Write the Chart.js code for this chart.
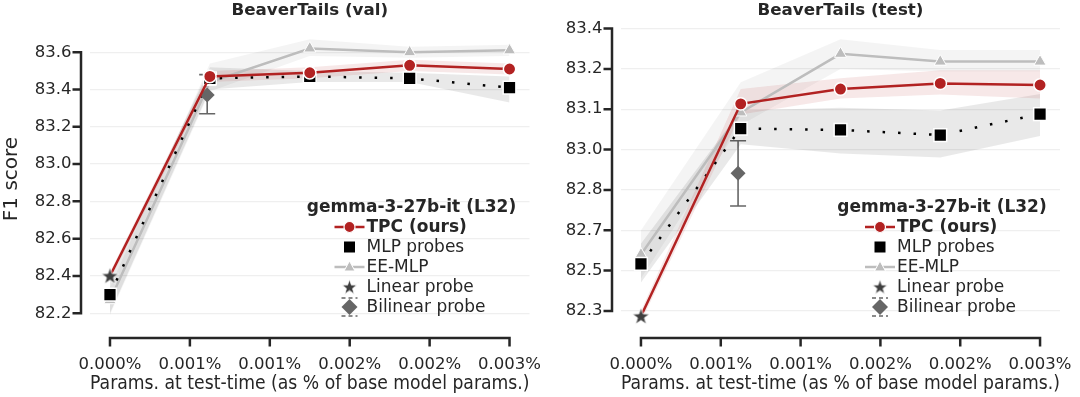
<!DOCTYPE html>
<html>
<head>
<meta charset="utf-8">
<script src="https://cdn.jsdelivr.net/npm/chart.js@4.4.1/dist/chart.umd.min.js"></script>
<style>
  html, body { margin: 0; padding: 0; background: #fff; }
  #wrap { display: flex; width: 1080px; height: 397px; }
</style>
</head>
<body>
<div id="wrap">
  <canvas id="chartVal" width="540" height="397"></canvas>
  <canvas id="chartTest" width="540" height="397"></canvas>
</div>
<script>
'use strict';

// x positions (fraction of base model params, in %)
const paramX = [0, 0.00075, 0.0015, 0.00225, 0.003];
const linearX = [0];
const bilinearX = [0.00073];

const xTickValues = [0, 0.0006, 0.0012, 0.0018, 0.0024, 0.003];
const xTickLabels = ['0.000%', '0.001%', '0.001%', '0.002%', '0.002%', '0.003%'];

const valYTicks = [82.2, 82.4, 82.6, 82.8, 83.0, 83.2, 83.4, 83.6];
const valYLabels = ['82.2', '82.4', '82.6', '82.8', '83.0', '83.2', '83.4', '83.6'];
const testYTicks = [82.35, 82.5, 82.65, 82.8, 82.95, 83.1, 83.25, 83.4];
const testYLabels = ['82.3', '82.5', '82.7', '82.8', '83.0', '83.1', '83.2', '83.4'];

const titles = ['BeaverTails (val)', 'BeaverTails (test)'];
const legendTitle = 'gemma-3-27b-it (L32)';
const seriesNames = ['TPC (ours)', 'MLP probes', 'EE-MLP', 'Linear probe', 'Bilinear probe'];

// BeaverTails (val)
const valTpc = [82.40, 83.47, 83.49, 83.53, 83.51];
const valTpcLow = [82.38, 83.44, 83.46, 83.50, 83.48];
const valTpcHigh = [82.42, 83.50, 83.52, 83.56, 83.54];
const valMlp = [82.30, 83.46, 83.47, 83.46, 83.41];
const valMlpLow = [82.20, 83.40, 83.44, 83.44, 83.33];
const valMlpHigh = [82.38, 83.52, 83.50, 83.49, 83.47];
const valEe = [82.27, 83.44, 83.62, 83.60, 83.61];
const valEeLow = [82.19, 83.39, 83.58, 83.57, 83.58];
const valEeHigh = [82.34, 83.54, 83.67, 83.63, 83.64];
const valLinear = [82.40];
const valBilinear = [83.37];
const valBilinearLow = [83.27];
const valBilinearHigh = [83.48];

// BeaverTails (test)
const testTpc = [82.33, 83.12, 83.175, 83.196, 83.19];
const testTpcLow = [82.31, 83.08, 83.14, 83.155, 83.14];
const testTpcHigh = [82.35, 83.175, 83.215, 83.245, 83.245];
const testMlp = [82.525, 83.028, 83.023, 83.004, 83.082];
const testMlpLow = [82.455, 82.97, 82.935, 82.92, 83.0];
const testMlpHigh = [82.60, 83.095, 83.105, 83.095, 83.157];
const testEe = [82.56, 83.088, 83.306, 83.277, 83.277];
const testEeLow = [82.47, 83.04, 83.25, 83.24, 83.24];
const testEeHigh = [82.65, 83.20, 83.36, 83.32, 83.32];
const testLinear = [82.33];
const testBilinear = [82.862];
const testBilinearLow = [82.74];
const testBilinearHigh = [82.983];

const RED = '#b22222';
const EE_GRAY = '#bdbdbd';
const DARK = '#262626';
const STAR_COL = '#3f3f3f';
const DIAMOND_COL = '#666666';
const FONT = "'DejaVu Sans', sans-serif";

Chart.defaults.font.family = FONT;
Chart.defaults.font.size = 16.5;
Chart.defaults.color = DARK;

function makeStar(size, fill) {
  let c = document.createElement('canvas');
  c.width = size;
  c.height = size;
  let g = c.getContext('2d');
  let cx = size / 2, cy = size / 2 + 0.5, R = size / 2 - 0.5, r = R * 0.4;
  g.beginPath();
  for (let i = 0; i < 10; i++) {
    let rad = i % 2 ? r : R;
    let a = -Math.PI / 2 + i * Math.PI / 5;
    g.lineTo(cx + rad * Math.cos(a), cy + rad * Math.sin(a));
  }
  g.closePath();
  g.fillStyle = fill;
  g.fill();
  g.strokeStyle = '#fff';
  g.lineWidth = 0.8;
  g.stroke();
  return c;
}

let starImg = makeStar(19, STAR_COL);
let starSmall = makeStar(17, STAR_COL);

function pts(xs, ys) {
  return ys.map((v, i) => ({ x: xs[i], y: v }));
}

function band(high, low, color, order) {
  return [
    { data: pts(paramX, high), fill: '+1', backgroundColor: color, borderWidth: 0, pointRadius: 0, order: order },
    { data: pts(paramX, low), fill: false, borderWidth: 0, pointRadius: 0, order: order }
  ];
}

// spines trimmed to the tick range, offset from the plot area
let spinesPlugin = {
  id: 'spines',
  afterDraw(chart) {
    let { ctx, chartArea: a, scales: { x, y } } = chart;
    let yt = chart.options.plugins.spines.yTicks;
    ctx.save();
    ctx.strokeStyle = DARK;
    ctx.lineWidth = 2.5;
    let sx = a.left - 9;
    let sy = a.bottom + 8;
    ctx.beginPath();
    ctx.moveTo(sx, y.getPixelForValue(yt[0]));
    ctx.lineTo(sx, y.getPixelForValue(yt[yt.length - 1]));
    yt.forEach(v => {
      let py = y.getPixelForValue(v);
      ctx.moveTo(sx + 1.25, py);
      ctx.lineTo(sx - 8.5, py);
    });
    ctx.moveTo(x.getPixelForValue(xTickValues[0]), sy);
    ctx.lineTo(x.getPixelForValue(xTickValues[xTickValues.length - 1]), sy);
    xTickValues.forEach(v => {
      let px = x.getPixelForValue(v);
      ctx.moveTo(px, sy - 1.25);
      ctx.lineTo(px, sy + 8.5);
    });
    ctx.stroke();
    ctx.restore();
  }
};

let errorBarPlugin = {
  id: 'errbars',
  beforeDatasetsDraw(chart) {
    let o = chart.options.plugins.errbars;
    let { ctx, scales: { x, y } } = chart;
    ctx.save();
    ctx.strokeStyle = DIAMOND_COL;
    ctx.lineWidth = 1.6;
    o.xs.forEach((xv, i) => {
      let px = x.getPixelForValue(xv);
      let top = y.getPixelForValue(o.high[i]);
      let bot = y.getPixelForValue(o.low[i]);
      ctx.beginPath();
      ctx.moveTo(px, top);
      ctx.lineTo(px, bot);
      ctx.moveTo(px - 8, top);
      ctx.lineTo(px + 8, top);
      ctx.moveTo(px - 8, bot);
      ctx.lineTo(px + 8, bot);
      ctx.stroke();
    });
    ctx.restore();
  }
};

let legendPlugin = {
  id: 'sideLegend',
  afterDraw(chart) {
    let { ctx, chartArea: a } = chart;
    let hx = a.right - 180;
    let tx = hx + 17;
    ctx.save();
    ctx.textBaseline = 'middle';
    ctx.fillStyle = DARK;
    ctx.textAlign = 'center';
    ctx.font = 'bold 17px ' + FONT;
    ctx.fillText(legendTitle, a.right - 118, a.bottom - 122);
    let rows = seriesNames.map((n, i) => a.bottom - 103 + 20 * i);
    ctx.textAlign = 'left';
    seriesNames.forEach((name, i) => {
      ctx.fillStyle = DARK;
      ctx.font = (i === 0 ? 'bold ' : '') + '17px ' + FONT;
      ctx.fillText(name, tx, rows[i] + 1);
    });
    // handles
    ctx.lineWidth = 2.5;
    ctx.strokeStyle = RED;
    ctx.beginPath(); ctx.moveTo(hx - 15, rows[0]); ctx.lineTo(hx + 15, rows[0]); ctx.stroke();
    ctx.fillStyle = RED; ctx.strokeStyle = '#fff';
    ctx.beginPath(); ctx.arc(hx, rows[0], 5.5, 0, Math.PI * 2); ctx.fill(); ctx.lineWidth = 1.2; ctx.stroke();
    ctx.fillStyle = '#000';
    ctx.fillRect(hx - 5.5, rows[1] - 5.5, 11, 11);
    ctx.strokeStyle = EE_GRAY; ctx.lineWidth = 2.5;
    ctx.beginPath(); ctx.moveTo(hx - 15, rows[2]); ctx.lineTo(hx + 15, rows[2]); ctx.stroke();
    ctx.fillStyle = EE_GRAY; ctx.strokeStyle = '#fff'; ctx.lineWidth = 1;
    ctx.beginPath();
    ctx.moveTo(hx, rows[2] - 6); ctx.lineTo(hx + 5.5, rows[2] + 4); ctx.lineTo(hx - 5.5, rows[2] + 4);
    ctx.closePath(); ctx.fill(); ctx.stroke();
    ctx.drawImage(starSmall, hx - 8.5, rows[3] - 8.5);
    ctx.strokeStyle = DIAMOND_COL; ctx.lineWidth = 1.5; ctx.setLineDash([4, 3]);
    ctx.beginPath();
    ctx.moveTo(hx - 8, rows[4] - 9); ctx.lineTo(hx + 8, rows[4] - 9);
    ctx.moveTo(hx - 8, rows[4] + 9); ctx.lineTo(hx + 8, rows[4] + 9);
    ctx.stroke();
    ctx.setLineDash([]);
    ctx.fillStyle = DIAMOND_COL;
    ctx.beginPath();
    ctx.moveTo(hx, rows[4] - 8); ctx.lineTo(hx + 8, rows[4]); ctx.lineTo(hx, rows[4] + 8); ctx.lineTo(hx - 8, rows[4]);
    ctx.closePath(); ctx.fill();
    ctx.restore();
  }
};

function makeChart(id, cfg) {
  let datasets = [].concat(
    band(cfg.eeHigh, cfg.eeLow, 'rgba(0,0,0,0.045)', 12),
    band(cfg.mlpHigh, cfg.mlpLow, 'rgba(0,0,0,0.085)', 11),
    band(cfg.tpcHigh, cfg.tpcLow, 'rgba(178,34,34,0.10)', 10),
    [
      {
        label: seriesNames[2], data: pts(paramX, cfg.ee), order: 5,
        borderColor: EE_GRAY, borderWidth: 2.5, backgroundColor: EE_GRAY,
        pointStyle: 'triangle', pointRadius: 7, pointBorderColor: '#fff', pointBorderWidth: 1
      },
      {
        label: seriesNames[1], data: pts(paramX, cfg.mlp), order: 4,
        borderColor: '#000', borderWidth: 2.5, borderDash: [2.5, 13], borderCapStyle: 'butt',
        backgroundColor: '#000', pointStyle: 'rect', pointRadius: 9,
        pointBorderColor: '#fff', pointBorderWidth: 1.5
      },
      {
        label: seriesNames[4], data: pts(bilinearX, cfg.bilinear), order: 3, showLine: false,
        backgroundColor: DIAMOND_COL, borderColor: DIAMOND_COL,
        pointStyle: 'rectRot', pointRadius: 7.5, pointBorderWidth: 0
      },
      {
        label: seriesNames[0], data: pts(paramX, cfg.tpc), order: 2,
        borderColor: RED, borderWidth: 2.5, backgroundColor: RED,
        pointStyle: 'circle', pointRadius: c => c.dataIndex === 0 ? 0 : 6.2,
        pointBorderColor: '#fff', pointBorderWidth: 1.5
      },
      {
        label: seriesNames[3], data: pts(linearX, cfg.linear), order: 1, showLine: false,
        pointStyle: starImg, pointRadius: 8
      }
    ]
  );

  return new Chart(document.getElementById(id), {
    type: 'line',
    data: { datasets: datasets },
    plugins: [errorBarPlugin, spinesPlugin, legendPlugin],
    options: {
      responsive: false,
      animation: false,
      events: [],
      devicePixelRatio: 1,
      layout: { padding: { left: 0, right: cfg.padRight, top: 0, bottom: 0 } },
      elements: { line: { tension: 0 } },
      plugins: {
        legend: { display: false },
        tooltip: { enabled: false },
        title: {
          display: true, text: cfg.title, fullSize: false, color: DARK,
          font: { size: 16.7, weight: 'bold' }, padding: { top: 1, bottom: 6.96 }
        },
        spines: { yTicks: cfg.yTicks },
        errbars: { xs: bilinearX, low: cfg.bilinearLow, high: cfg.bilinearHigh }
      },
      scales: {
        x: {
          type: 'linear', min: -0.00015, max: 0.00315, bounds: 'data',
          afterBuildTicks: s => { s.ticks = xTickValues.map(v => ({ value: v })); },
          afterFit: s => { s.height = 67; s.paddingLeft = 0; s.paddingRight = 0; },
          ticks: {
            autoSkip: false, maxRotation: 0, minRotation: 0, padding: 0, color: DARK,
            callback: (v, i) => xTickLabels[i]
          },
          grid: {
            display: true, drawOnChartArea: false, drawTicks: true,
            tickLength: 25, tickColor: 'rgba(0,0,0,0)'
          },
          border: { display: false },
          title: {
            display: true, text: 'Params. at test-time (as % of base model params.)',
            color: DARK, font: { size: 18.7 }, padding: { top: 0, bottom: 1.5 }
          }
        },
        y: {
          type: 'linear', min: cfg.yMin, max: cfg.yMax, bounds: 'data',
          afterBuildTicks: s => { s.ticks = cfg.yTicks.map(v => ({ value: v })); },
          afterFit: s => { s.width = cfg.yWidth; s.paddingTop = 0; s.paddingBottom = 0; },
          ticks: {
            autoSkip: false, padding: 0, color: DARK,
            callback: (v, i) => cfg.yLabels[i]
          },
          grid: {
            color: '#efefef', lineWidth: 1.3, drawTicks: true,
            tickLength: 18.5, tickColor: 'rgba(0,0,0,0)'
          },
          border: { display: false },
          title: {
            display: cfg.yTitle !== '', text: cfg.yTitle, color: DARK,
            font: { size: 20 }, padding: { top: 0, bottom: 0 }
          }
        }
      }
    }
  });
}

makeChart('chartVal', {
  title: titles[0], yTitle: 'F1 score', yWidth: 90, padRight: 10,
  yMin: 82.11, yMax: 83.73, yTicks: valYTicks, yLabels: valYLabels,
  tpc: valTpc, tpcLow: valTpcLow, tpcHigh: valTpcHigh,
  mlp: valMlp, mlpLow: valMlpLow, mlpHigh: valMlpHigh,
  ee: valEe, eeLow: valEeLow, eeHigh: valEeHigh,
  linear: valLinear, bilinear: valBilinear,
  bilinearLow: valBilinearLow, bilinearHigh: valBilinearHigh
});

makeChart('chartTest', {
  title: titles[1], yTitle: '', yWidth: 81, padRight: 20,
  yMin: 82.279, yMax: 83.402, yTicks: testYTicks, yLabels: testYLabels,
  tpc: testTpc, tpcLow: testTpcLow, tpcHigh: testTpcHigh,
  mlp: testMlp, mlpLow: testMlpLow, mlpHigh: testMlpHigh,
  ee: testEe, eeLow: testEeLow, eeHigh: testEeHigh,
  linear: testLinear, bilinear: testBilinear,
  bilinearLow: testBilinearLow, bilinearHigh: testBilinearHigh
});
</script>
</body>
</html>
